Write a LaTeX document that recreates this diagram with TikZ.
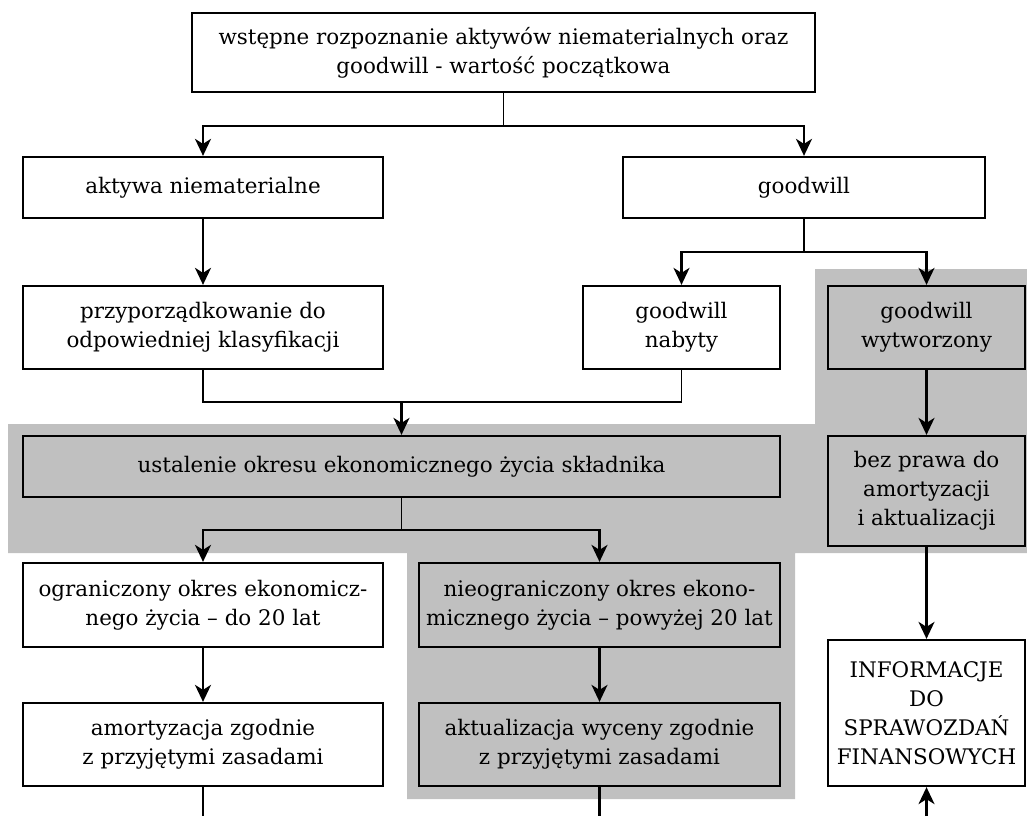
\documentclass[tikz,border=0pt]{standalone}
\usepackage{fontspec}
\setmainfont{DejaVu Serif}
\usetikzlibrary{arrows.meta}
\definecolor{bggray}{HTML}{C0C0C0}

\tikzset{
  box/.style={draw,line width=1.3pt,align=center,inner sep=2pt,
    font=\fontsize{12.2}{16.5}\selectfont},
  whitebox/.style={box,fill=white},
  graybox/.style={box,fill=bggray},
  stem/.style={line width=0.8pt},
  lead/.style={line width=1.3pt},
  flow/.style={lead,-{Stealth[length=0.34cm,width=0.32cm,inset=0.1cm]}},
}

\begin{document}
\begin{tikzpicture}[x=0.02cm,y=-0.02cm]
  \useasboundingbox (0,0) rectangle (1027,816);
  % szare tło
  \fill[bggray] (8,424) -- (815,424) -- (815,269) -- (1027,269) -- (1027,553)
    -- (795,553) -- (795,799) -- (407,799) -- (407,553) -- (8,553) -- cycle;

  % węzły
  \node[whitebox,minimum width=12.46cm,minimum height=1.58cm] (start) at (503.5,52.5)
    {wstępne rozpoznanie aktywów niematerialnych oraz\\goodwill - wartość początkowa};
  \node[whitebox,minimum width=7.2cm,minimum height=1.22cm] (aktywa) at (203,187.5)
    {aktywa niematerialne};
  \node[whitebox,minimum width=7.24cm,minimum height=1.22cm] (goodwill) at (804,187.5)
    {goodwill};
  \node[whitebox,minimum width=7.2cm,minimum height=1.66cm] (klasyf) at (203,327.5)
    {przyporządkowanie do\\odpowiedniej klasyfikacji};
  \node[whitebox,minimum width=3.94cm,minimum height=1.66cm] (nabyty) at (681.5,327.5)
    {goodwill\\nabyty};
  \node[graybox,minimum width=3.94cm,minimum height=1.66cm] (wytw) at (926.5,327.5)
    {goodwill\\wytworzony};
  \node[graybox,minimum width=15.14cm,minimum height=1.22cm] (okres) at (401.5,466.5)
    {ustalenie okresu ekonomicznego życia składnika};
  \node[graybox,minimum width=3.94cm,minimum height=2.2cm] (bezprawa) at (926.5,491)
    {bez prawa do\\amortyzacji\\i aktualizacji};
  \node[whitebox,minimum width=7.2cm,minimum height=1.68cm] (ogr) at (203,605)
    {ograniczony okres ekonomicz-\\nego życia – do 20 lat};
  \node[graybox,minimum width=7.22cm,minimum height=1.68cm] (nieogr) at (599.5,605)
    {nieograniczony okres ekono-\\micznego życia – powyżej 20 lat};
  \node[whitebox,minimum width=7.2cm,minimum height=1.66cm] (amort) at (203,744.5)
    {amortyzacja zgodnie\\z przyjętymi zasadami};
  \node[graybox,minimum width=7.22cm,minimum height=1.66cm] (aktual) at (599.5,744.5)
    {aktualizacja wyceny zgodnie\\z przyjętymi zasadami};
  \node[whitebox,minimum width=3.94cm,minimum height=2.92cm] (info) at (926.5,713)
    {INFORMACJE\\DO\\SPRAWOZDAŃ\\FINANSOWYCH};

  % punkty rozgałęzień
  \coordinate (j1) at (503.5,126);
  \coordinate (j2) at (804,252);
  \coordinate (j3) at (401.5,402);
  \coordinate (j4) at (401.5,530);
  \coordinate (amortEnd) at (203,816);
  \coordinate (aktualEnd) at (599.5,816);
  \coordinate (infoIn) at (926.5,816);

  % połączenia
  \draw[stem] (start) -- (j1);
  \draw[flow] (j1) -| (aktywa);
  \draw[flow] (j1) -| (goodwill);
  \draw[flow] (aktywa) -- (klasyf);
  \draw[stem] (goodwill) -- (j2);
  \draw[flow] (j2) -| (nabyty);
  \draw[flow] (j2) -| (wytw);
  \draw[stem] (klasyf.south) |- (j3) -| (nabyty.south);
  \draw[flow] (j3) -- (okres);
  \draw[stem] (okres) -- (j4);
  \draw[flow] (j4) -| (ogr);
  \draw[flow] (j4) -| (nieogr);
  \draw[flow] (ogr) -- (amort);
  \draw[flow] (nieogr) -- (aktual);
  \draw[lead] (amort) -- (amortEnd);
  \draw[lead] (aktual) -- (aktualEnd);
  \draw[flow] (wytw) -- (bezprawa);
  \draw[flow] (bezprawa) -- (info);
  \draw[flow] (infoIn) -- (info);
\end{tikzpicture}
\end{document}
